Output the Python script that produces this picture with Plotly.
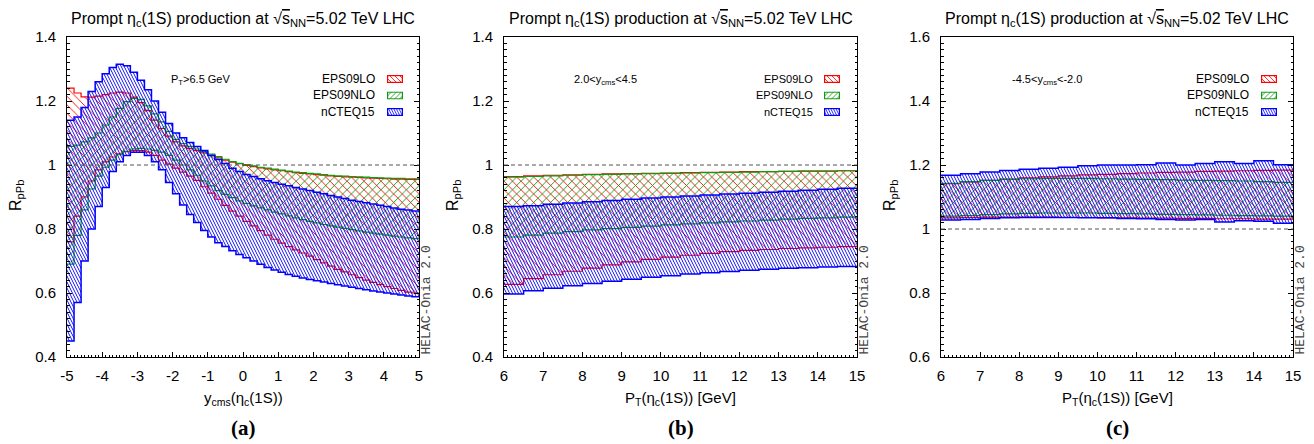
import base64
import plotly.graph_objects as go

W, H = 1314, 444

# ---------------- data ----------------
# Panel (a): R_pPb vs y_cms, bins of 0.2 from -5 to 5
ycms_edges = [round(-5 + 0.2 * i, 1) for i in range(51)]
a_eps09lo_hi = [1.240, 1.225, 1.213, 1.212, 1.215, 1.220, 1.225, 1.228, 1.225, 1.212,
                1.195, 1.170, 1.140, 1.114, 1.090, 1.072, 1.060, 1.052, 1.045, 1.038,
                1.030, 1.022, 1.015, 1.009, 1.004, 0.999, 0.995, 0.991, 0.988, 0.985,
                0.982, 0.979, 0.976, 0.974, 0.972, 0.970, 0.968, 0.966, 0.964, 0.963,
                0.962, 0.961, 0.960, 0.959, 0.958, 0.957, 0.956, 0.956, 0.955, 0.955]
a_eps09lo_lo = [0.760, 0.840, 0.900, 0.950, 0.985, 1.010, 1.025, 1.035, 1.042, 1.045,
                1.045, 1.040, 1.030, 1.015, 1.003, 0.990, 0.978, 0.965, 0.952, 0.932,
                0.912, 0.893, 0.874, 0.856, 0.840, 0.824, 0.810, 0.795, 0.781, 0.768,
                0.756, 0.745, 0.735, 0.725, 0.715, 0.704, 0.694, 0.684, 0.674, 0.666,
                0.657, 0.648, 0.640, 0.633, 0.626, 0.620, 0.614, 0.608, 0.603, 0.600]
a_eps09nlo_hi = [1.058, 1.062, 1.072, 1.085, 1.100, 1.125, 1.150, 1.177, 1.198, 1.208,
                 1.205, 1.185, 1.160, 1.135, 1.105, 1.080, 1.067, 1.058, 1.050, 1.042,
                 1.034, 1.026, 1.018, 1.011, 1.005, 1.001, 0.997, 0.993, 0.990, 0.987,
                 0.984, 0.981, 0.978, 0.976, 0.974, 0.972, 0.970, 0.968, 0.966, 0.965,
                 0.964, 0.963, 0.962, 0.961, 0.960, 0.959, 0.958, 0.958, 0.957, 0.957]
a_eps09nlo_lo = [0.690, 0.780, 0.860, 0.925, 0.965, 0.993, 1.015, 1.032, 1.043, 1.050,
                 1.052, 1.050, 1.046, 1.040, 1.030, 1.015, 1.000, 0.985, 0.968, 0.950,
                 0.935, 0.920, 0.908, 0.898, 0.888, 0.880, 0.872, 0.866, 0.860, 0.853,
                 0.847, 0.841, 0.835, 0.829, 0.824, 0.819, 0.814, 0.810, 0.806, 0.802,
                 0.798, 0.794, 0.790, 0.787, 0.784, 0.781, 0.778, 0.775, 0.772, 0.770]
a_ncteq15_hi = [1.140, 1.150, 1.180, 1.230, 1.260, 1.285, 1.305, 1.315, 1.310, 1.290,
                1.265, 1.235, 1.200, 1.165, 1.130, 1.100, 1.085, 1.070, 1.058, 1.045,
                1.030, 1.017, 1.005, 0.990, 0.980, 0.970, 0.964, 0.957, 0.951, 0.945,
                0.940, 0.935, 0.930, 0.925, 0.920, 0.915, 0.910, 0.905, 0.900, 0.895,
                0.890, 0.886, 0.882, 0.878, 0.874, 0.870, 0.866, 0.862, 0.859, 0.856]
a_ncteq15_lo = [0.450, 0.570, 0.700, 0.800, 0.870, 0.930, 0.980, 1.010, 1.030, 1.040,
                1.040, 1.030, 1.010, 0.985, 0.945, 0.910, 0.875, 0.845, 0.820, 0.795,
                0.775, 0.757, 0.745, 0.732, 0.720, 0.710, 0.700, 0.690, 0.680, 0.672,
                0.665, 0.658, 0.652, 0.647, 0.642, 0.638, 0.634, 0.630, 0.626, 0.622,
                0.618, 0.614, 0.610, 0.606, 0.603, 0.600, 0.597, 0.594, 0.591, 0.588]

# Panels (b), (c): R_pPb vs P_T, bins of 0.5 GeV from 6 to 15
pt_edges = [6.0, 6.5, 7.0, 7.5, 8.0, 8.5, 9.0, 9.5, 10.0, 10.5,
            11.0, 11.5, 12.0, 12.5, 13.0, 13.5, 14.0, 14.5, 15.0]
b_eps09lo_hi = [0.964, 0.966, 0.968, 0.969, 0.971, 0.972, 0.973, 0.974, 0.975,
                0.976, 0.977, 0.978, 0.979, 0.979, 0.980, 0.981, 0.981, 0.982]
b_eps09lo_lo = [0.627, 0.645, 0.657, 0.668, 0.678, 0.688, 0.697, 0.705, 0.712,
                0.718, 0.724, 0.729, 0.733, 0.736, 0.739, 0.741, 0.743, 0.745]
b_eps09nlo_hi = [0.962, 0.964, 0.966, 0.968, 0.970, 0.971, 0.972, 0.973, 0.974,
                 0.975, 0.976, 0.977, 0.978, 0.979, 0.980, 0.981, 0.981, 0.982]
b_eps09nlo_lo = [0.775, 0.781, 0.787, 0.792, 0.797, 0.801, 0.805, 0.809, 0.813,
                 0.816, 0.819, 0.822, 0.825, 0.828, 0.831, 0.833, 0.835, 0.837]
b_ncteq15_hi = [0.870, 0.873, 0.877, 0.881, 0.885, 0.889, 0.893, 0.897, 0.900,
                0.903, 0.906, 0.909, 0.912, 0.915, 0.918, 0.921, 0.924, 0.927]
b_ncteq15_lo = [0.597, 0.607, 0.615, 0.623, 0.630, 0.637, 0.643, 0.649, 0.654,
                0.659, 0.663, 0.667, 0.671, 0.674, 0.677, 0.679, 0.681, 0.683]

c_eps09lo_hi = [1.142, 1.147, 1.152, 1.156, 1.160, 1.163, 1.166, 1.169, 1.171,
                1.173, 1.175, 1.177, 1.178, 1.180, 1.181, 1.182, 1.183, 1.184]
c_eps09lo_lo = [1.035, 1.036, 1.037, 1.037, 1.037, 1.037, 1.036, 1.036, 1.035,
                1.035, 1.034, 1.034, 1.033, 1.033, 1.032, 1.032, 1.031, 1.031]
c_eps09nlo_hi = [1.143, 1.148, 1.152, 1.155, 1.157, 1.158, 1.158, 1.158, 1.157,
                 1.156, 1.155, 1.154, 1.153, 1.152, 1.151, 1.150, 1.148, 1.146]
c_eps09nlo_lo = [1.040, 1.042, 1.045, 1.047, 1.049, 1.050, 1.050, 1.050, 1.049,
                 1.048, 1.047, 1.046, 1.045, 1.044, 1.043, 1.042, 1.041, 1.040]
c_ncteq15_hi = [1.168, 1.173, 1.178, 1.183, 1.187, 1.190, 1.193, 1.198, 1.200,
                1.200, 1.201, 1.206, 1.200, 1.205, 1.210, 1.205, 1.213, 1.201]
c_ncteq15_lo = [1.028, 1.030, 1.033, 1.035, 1.036, 1.036, 1.036, 1.035, 1.035,
                1.033, 1.032, 1.030, 1.028, 1.030, 1.022, 1.026, 1.024, 1.018]

series_names = ["EPS09LO", "EPS09NLO", "nCTEQ15"]

# ticks
xticks_a = [-5, -4, -3, -2, -1, 0, 1, 2, 3, 4, 5]
xticklabels_a = ["-5", "-4", "-3", "-2", "-1", "0", "1", "2", "3", "4", "5"]
xticks_pt = [6, 7, 8, 9, 10, 11, 12, 13, 14, 15]
yticks_ab = [0.4, 0.6, 0.8, 1.0, 1.2, 1.4]
yticklabels_ab = ["0.4", "0.6", "0.8", "1", "1.2", "1.4"]
yticks_c = [0.6, 0.8, 1.0, 1.2, 1.4, 1.6]
yticklabels_c = ["0.6", "0.8", "1", "1.2", "1.4", "1.6"]
ref_level = 1.0

# ---------------- styling ----------------
RED, GREEN, BLUE = "#ff0000", "#109a10", "#0000ff"
# steep "\" hatch tile (6x6 px) for nCTEQ15
STEEP_PATH = ("M0,0L0.9,0L3.9,6L3,6Z M3,0L3.9,0L6.9,6L6,6Z M-3,0L-2.1,0L0.9,6L0,6Z")
styles = {
    "EPS09LO": dict(color=RED, pattern=dict(shape="\\", size=6, solidity=0.15), lw=1.2,
                    key_lines="back", key_step=5.0, key_slant=8),
    "EPS09NLO": dict(color=GREEN, pattern=dict(shape="/", size=6, solidity=0.15), lw=1.2,
                     key_lines="fwd", key_step=5.0, key_slant=8),
    "nCTEQ15": dict(color=BLUE, pattern=dict(path=STEEP_PATH, size=6, solidity=0.3), lw=1.5,
                    key_lines="back", key_step=2.6, key_slant=4),
}
FONT = "Liberation Sans, Arial, sans-serif"
KEY_W, KEY_H = 16, 8


def px_x(p):
    return p / W


def px_y(p):
    return 1 - p / H


def key_image(color, direction, step, slant):
    """Small hatched legend key as an SVG data URI."""
    segs = []
    x = -slant - step
    while x < KEY_W + step:
        if direction == "back":
            segs.append(f"M{x:.2f},0L{x + slant:.2f},{KEY_H}")
        else:
            segs.append(f"M{x:.2f},{KEY_H}L{x + slant:.2f},0")
        x += step
    svg = (f"<svg xmlns='http://www.w3.org/2000/svg' width='{KEY_W}' height='{KEY_H}' "
           f"viewBox='0 0 {KEY_W} {KEY_H}'>"
           f"<defs><clipPath id='c'><rect x='0' y='0' width='{KEY_W}' height='{KEY_H}'/></clipPath></defs>"
           f"<rect x='0' y='0' width='{KEY_W}' height='{KEY_H}' fill='white'/>"
           f"<path clip-path='url(#c)' d='{' '.join(segs)}' stroke='{color}' stroke-width='0.8' fill='none'/>"
           f"<rect x='0.6' y='0.6' width='{KEY_W - 1.2}' height='{KEY_H - 1.2}' fill='none' "
           f"stroke='{color}' stroke-width='1.2'/></svg>")
    return "data:image/svg+xml;base64," + base64.b64encode(svg.encode()).decode()


panels = [
    dict(key="a", xa="x", ya="y", left=67, right=419,
         edges=ycms_edges,
         bands={"EPS09LO": (a_eps09lo_lo, a_eps09lo_hi),
                "EPS09NLO": (a_eps09nlo_lo, a_eps09nlo_hi),
                "nCTEQ15": (a_ncteq15_lo, a_ncteq15_hi)},
         xrange=[-5, 5], xticks=xticks_a, xlabels=xticklabels_a, xminor=0.1,
         yrange=[0.4, 1.4], yticks=yticks_ab, ylabels=yticklabels_ab,
         xtitle="y<sub>cms</sub>(η<sub>c</sub>(1S))",
         note="P<sub>T</sub>>6.5 GeV", note_x=200,
         label="(a)", leg_text_right=377, leg_box=387, leg_font=12),
    dict(key="b", xa="x2", ya="y2", left=504, right=857,
         edges=pt_edges,
         bands={"EPS09LO": (b_eps09lo_lo, b_eps09lo_hi),
                "EPS09NLO": (b_eps09nlo_lo, b_eps09nlo_hi),
                "nCTEQ15": (b_ncteq15_lo, b_ncteq15_hi)},
         xrange=[6, 15], xticks=xticks_pt, xlabels=[str(v) for v in xticks_pt], xminor=0.1,
         yrange=[0.4, 1.4], yticks=yticks_ab, ylabels=yticklabels_ab,
         xtitle="P<sub>T</sub>(η<sub>c</sub>(1S)) [GeV]",
         note="2.0<y<sub>cms</sub><4.5", note_x=605,
         label="(b)", leg_text_right=815, leg_box=824, leg_font=11),
    dict(key="c", xa="x3", ya="y3", left=941, right=1293,
         edges=pt_edges,
         bands={"EPS09LO": (c_eps09lo_lo, c_eps09lo_hi),
                "EPS09NLO": (c_eps09nlo_lo, c_eps09nlo_hi),
                "nCTEQ15": (c_ncteq15_lo, c_ncteq15_hi)},
         xrange=[6, 15], xticks=xticks_pt, xlabels=[str(v) for v in xticks_pt], xminor=0.1,
         yrange=[0.6, 1.6], yticks=yticks_c, ylabels=yticklabels_c,
         xtitle="P<sub>T</sub>(η<sub>c</sub>(1S)) [GeV]",
         note="-4.5<y<sub>cms</sub><-2.0", note_x=1047,
         label="(c)", leg_text_right=1251, leg_box=1261, leg_font=12),
]

TOP, BOTTOM = 37, 357
leg_rows = [79, 95.5, 112]

fig = go.Figure()
annotations = []
shapes = []
images = []
layout_axes = {}

title_text = ("Prompt η<sub>c</sub>(1S) production at √"
              "<span style='text-decoration:overline'>s</span><sub>NN</sub>=5.02 TeV LHC")

for p in panels:
    xa, ya = p["xa"], p["ya"]
    edges = p["edges"]
    for name in series_names:
        lo, hi = p["bands"][name]
        st = styles[name]
        fig.add_trace(go.Scatter(
            x=edges, y=lo + [lo[-1]], mode="lines", name=name,
            line=dict(color=st["color"], width=st["lw"], shape="hv"),
            xaxis=xa, yaxis=ya, showlegend=False, hoverinfo="skip"))
        fig.add_trace(go.Scatter(
            x=edges, y=hi + [hi[-1]], mode="lines", name=name,
            line=dict(color=st["color"], width=st["lw"], shape="hv"),
            fill="tonexty",
            fillpattern=dict(fgcolor=st["color"], bgcolor="rgba(0,0,0,0)", fillmode="replace",
                             **st["pattern"]),
            xaxis=xa, yaxis=ya, showlegend=False, hoverinfo="skip"))

    # legend: text labels + hatched keys
    for i, name in enumerate(series_names):
        st = styles[name]
        images.append(dict(
            source=key_image(st["color"], st["key_lines"], st["key_step"], st["key_slant"]),
            xref="paper", yref="paper", x=px_x(p["leg_box"]), y=px_y(leg_rows[i] - KEY_H / 2),
            sizex=KEY_W / W, sizey=KEY_H / H, xanchor="left", yanchor="top",
            sizing="stretch", layer="above"))
        annotations.append(dict(
            text=name, x=px_x(p["leg_text_right"]), y=px_y(leg_rows[i]),
            xref="paper", yref="paper", xanchor="right", yanchor="middle",
            showarrow=False, font=dict(size=p["leg_font"], family=FONT, color="black")))

    cx = (p["left"] + p["right"]) / 2
    annotations.append(dict(text=title_text, x=px_x(cx), y=px_y(20), xref="paper", yref="paper",
                            xanchor="center", yanchor="middle", showarrow=False,
                            font=dict(size=16, family=FONT, color="black")))
    annotations.append(dict(text=p["xtitle"], x=px_x(cx), y=px_y(398), xref="paper", yref="paper",
                            xanchor="center", yanchor="middle", showarrow=False,
                            font=dict(size=15, family=FONT, color="black")))
    annotations.append(dict(text="R<sub>pPb</sub>", x=px_x(p["left"] - 50), y=px_y(196),
                            xref="paper", yref="paper", xanchor="center", yanchor="middle",
                            textangle=-90, showarrow=False,
                            font=dict(size=16, family=FONT, color="black")))
    annotations.append(dict(text=p["note"], x=px_x(p["note_x"]), y=px_y(80), xref="paper", yref="paper",
                            xanchor="center", yanchor="middle", showarrow=False,
                            font=dict(size=11, family=FONT, color="black")))
    annotations.append(dict(text="<b>" + p["label"] + "</b>", x=px_x(cx), y=px_y(428),
                            xref="paper", yref="paper", xanchor="center", yanchor="middle",
                            showarrow=False,
                            font=dict(size=21, family="Liberation Serif, Times New Roman, serif",
                                      color="black")))
    annotations.append(dict(text="HELAC-Onia 2.0", x=px_x(p["right"] + 7), y=px_y(BOTTOM),
                            xref="paper", yref="paper", xanchor="center", yanchor="bottom",
                            textangle=-90, showarrow=False,
                            font=dict(size=13, family="Liberation Mono, Courier New, monospace",
                                      color="#444444")))
    shapes.append(dict(type="line", xref=f"{xa} domain", yref=ya, x0=0, x1=1,
                       y0=ref_level, y1=ref_level,
                       line=dict(color="#555555", width=1.2, dash="4px,3px"), layer="above"))

    dom_x = [px_x(p["left"]), px_x(p["right"])]
    dom_y = [px_y(BOTTOM), px_y(TOP)]
    xkey = "xaxis" if xa == "x" else "xaxis" + xa[1:]
    ykey = "yaxis" if ya == "y" else "yaxis" + ya[1:]
    layout_axes[xkey] = dict(
        domain=dom_x, anchor=ya, range=p["xrange"], showgrid=False, zeroline=False,
        showline=True, linecolor="black", linewidth=1, mirror=True, automargin=False,
        ticks="inside", ticklen=5, tickcolor="black", tickwidth=1,
        tickvals=p["xticks"], ticktext=p["xlabels"], ticklabelstandoff=5,
        tickfont=dict(size=15, family=FONT, color="black"),
        minor=dict(dtick=p["xminor"], ticks="inside", ticklen=2.5, tickcolor="black", showgrid=False),
        fixedrange=True)
    layout_axes[ykey] = dict(
        domain=dom_y, anchor=xa, range=p["yrange"], showgrid=False, zeroline=False,
        showline=True, linecolor="black", linewidth=1, mirror="allticks", automargin=False,
        ticks="inside", ticklen=5, tickcolor="black", tickwidth=1,
        tickvals=p["yticks"], ticktext=p["ylabels"], ticklabelstandoff=7,
        tickfont=dict(size=15, family=FONT, color="black"),
        minor=dict(dtick=0.02, ticks="inside", ticklen=2.5, tickcolor="black", showgrid=False),
        fixedrange=True)

fig.update_layout(
    width=W, height=H, autosize=False,
    margin=dict(l=0, r=0, t=0, b=0, pad=0, autoexpand=False),
    paper_bgcolor="white", plot_bgcolor="white",
    showlegend=False,
    annotations=annotations, shapes=shapes, images=images,
    font=dict(family=FONT, color="black"),
    **layout_axes,
)

# remove the default page margin so the figure sits at the window's top-left corner
fig.write_html("out.html",
               config={"displayModeBar": False, "staticPlot": True},
               post_script="document.body.style.margin='0';document.body.style.overflow='hidden';")
